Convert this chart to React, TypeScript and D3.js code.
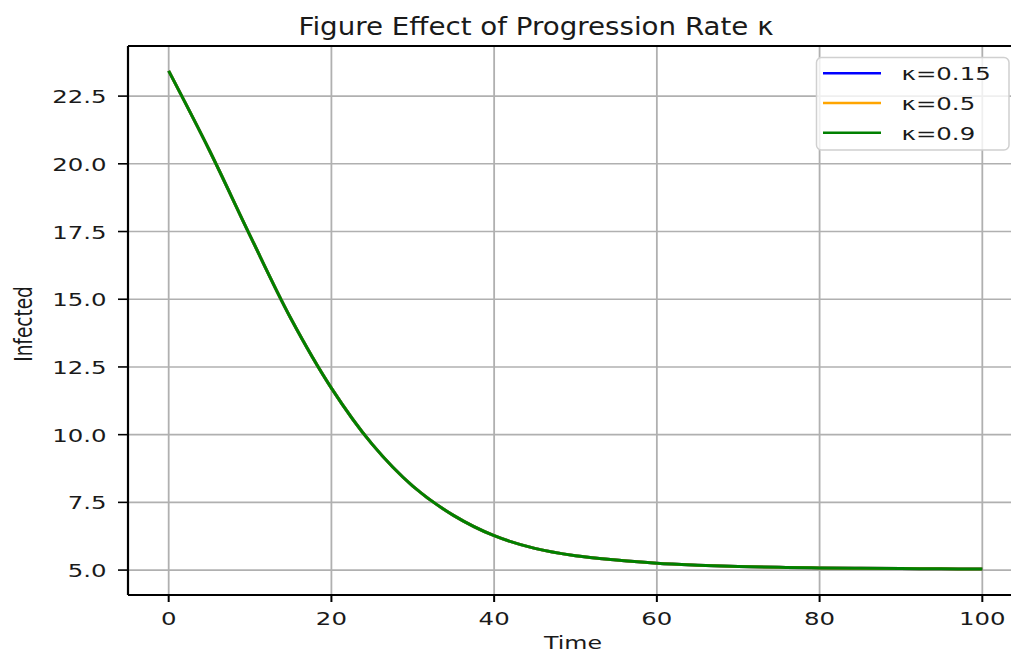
import React from "react";
import { scaleLinear, line, curveCatmullRom } from "d3";

// values (all three series overlap)
const times = [0, 5, 10, 15, 20, 25, 30, 35, 40, 45, 50, 55, 60, 65, 70, 75, 80, 85, 90, 95, 100];
const infected = [23.43, 20.5, 17.35, 14.3, 11.72, 9.65, 8.1, 7.02, 6.27, 5.8, 5.53, 5.37, 5.25, 5.18, 5.13, 5.1, 5.08, 5.065, 5.055, 5.045, 5.04];
const seriesLabels = ["κ=0.15", "κ=0.5", "κ=0.9"];
const seriesColors = ["blue", "orange", "green"];
const xTicks = [0, 20, 40, 60, 80, 100];
const yTicks = [5.0, 7.5, 10.0, 12.5, 15.0, 17.5, 20.0, 22.5];

const W = 1011;
const H = 653;
const SX = 1.32; // the picture is stretched sideways
const FONT = "DejaVu Sans, sans-serif";

const App = () => {
  const left = 128, top = 46, right = 1023, bottom = 595;
  const x = scaleLinear().domain([-5, 105]).range([left, right]);
  const y = scaleLinear().domain([4.08, 24.35]).range([bottom, top]);

  const path = line<number>()
    .x((d, i) => x(times[i]))
    .y(d => y(d))
    .curve(curveCatmullRom.alpha(0.5));

  const txt = (tx: number, ty: number, s: string, anchor: string, size = 18.5, rot = 0) => (
    <text
      transform={`translate(${tx},${ty}) scale(${SX},1)${rot ? ` rotate(${rot})` : ""}`}
      textAnchor={anchor}
      fontFamily={FONT}
      fontSize={size}
      fill="#1a1a1a"
    >
      {s}
    </text>
  );

  return (
    <svg width={W} height={H} style={{ position: "absolute", left: 0, top: 0, background: "#fff" }}>
      <defs>
        <clipPath id="plot">
          <rect x={left} y={top} width={right - left} height={bottom - top} />
        </clipPath>
      </defs>

      {/* grid */}
      {xTicks.map(t => (
        <line key={"gx" + t} x1={x(t)} x2={x(t)} y1={top} y2={bottom} stroke="#b0b0b0" strokeWidth={1.8} />
      ))}
      {yTicks.map(t => (
        <line key={"gy" + t} x1={left} x2={right} y1={y(t)} y2={y(t)} stroke="#b0b0b0" strokeWidth={1.6} />
      ))}

      {/* series */}
      <g clipPath="url(#plot)">
        {seriesColors.map(c => (
          <path key={c} d={path(infected) || ""} fill="none" stroke={c} strokeWidth={3} />
        ))}
      </g>

      {/* spines */}
      <line x1={left} x2={left} y1={top} y2={bottom} stroke="#000" strokeWidth={2.2} />
      <line x1={left} x2={right} y1={bottom} y2={bottom} stroke="#000" strokeWidth={1.8} />
      <line x1={left} x2={right} y1={top} y2={top} stroke="#000" strokeWidth={1.8} />

      {/* ticks */}
      {xTicks.map(t => (
        <g key={"tx" + t}>
          <line x1={x(t)} x2={x(t)} y1={bottom} y2={bottom + 7} stroke="#000" strokeWidth={2} />
          {txt(x(t), 624.5, String(t), "middle")}
        </g>
      ))}
      {yTicks.map(t => (
        <g key={"ty" + t}>
          <line x1={left - 10} x2={left} y1={y(t)} y2={y(t)} stroke="#000" strokeWidth={1.6} />
          {txt(106.5, y(t) + 7, t.toFixed(1), "end")}
        </g>
      ))}

      {/* labels */}
      {txt(573, 648.5, "Time", "middle", 18)}
      {txt(32, 324, "Infected", "middle", 18.5, -90)}
      <text
        x={536}
        y={35}
        textAnchor="middle"
        fontFamily={FONT}
        fontSize={24.5}
        fill="#1a1a1a"
        textLength={475}
        lengthAdjust="spacingAndGlyphs"
      >
        Figure Effect of Progression Rate κ
      </text>

      {/* legend */}
      <rect x={816.5} y={57.5} width={192.5} height={92.5} rx={5} fill="#fff" fillOpacity={0.8} stroke="#d0d0d0" strokeWidth={1.5} />
      {seriesLabels.map((s, i) => (
        <g key={s}>
          <line x1={823} x2={881} y1={73.3 + i * 29.7} y2={73.3 + i * 29.7} stroke={seriesColors[i]} strokeWidth={2.5} />
          {txt(901.5, 73.3 + i * 29.7 + 7, s, "start")}
        </g>
      ))}
    </svg>
  );
};

export default App;
